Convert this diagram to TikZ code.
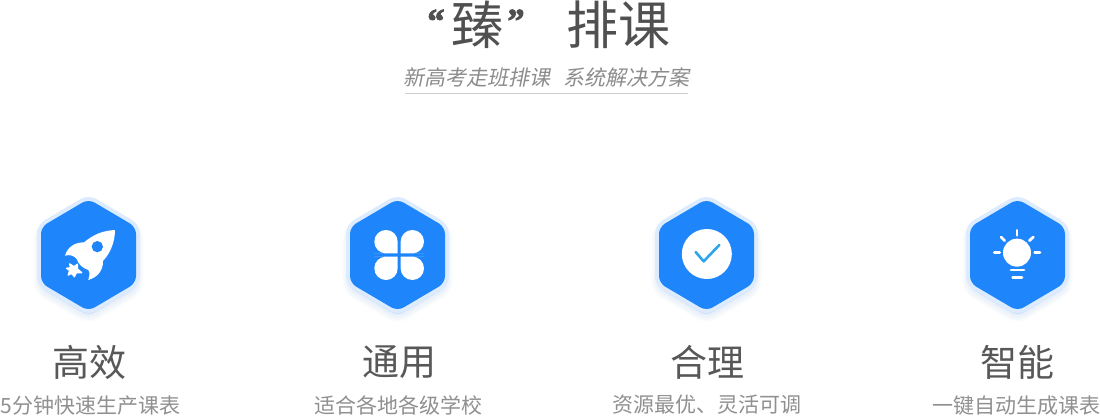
\documentclass[tikz,border=0pt]{standalone}
\usepackage{fontspec}
\setmainfont{Noto Sans CJK SC}
\newfontfamily\cjkslant[FakeSlant=0.2]{Noto Sans CJK SC}
\newfontfamily\quotefont[FakeBold=3]{Liberation Serif Bold}
\definecolor{hexblue}{HTML}{1E86FA}
\definecolor{halo}{HTML}{DCEBFE}
\definecolor{titlegray}{HTML}{505050}
\definecolor{subgray}{HTML}{8C8C8C}
\definecolor{labelgray}{HTML}{585858}
\definecolor{descgray}{HTML}{909090}
\definecolor{checkblue}{HTML}{2BA6EC}
\tikzset{
  titletext/.style={inner sep=0pt,text=titlegray,font=\fontsize{52pt}{54pt}\selectfont},
  quotetext/.style={inner sep=0pt,text=titlegray,font=\quotefont\fontsize{34pt}{36pt}\selectfont},
  subtext/.style={inner sep=0pt,text=subgray,font=\cjkslant\fontsize{21pt}{23pt}\selectfont},
  labeltext/.style={inner sep=0pt,text=labelgray,font=\fontsize{37pt}{39pt}\selectfont},
  desctext/.style={inner sep=0pt,text=descgray,font=\fontsize{21pt}{23pt}\selectfont},
  iconbar/.style={draw=white,line width=2.8pt,line cap=round},
}
\newcommand{\hexpath}{(0,-56) -- (47.5,-28) -- (47.5,28) -- (0,56) -- (-47.5,28) -- (-47.5,-28) -- cycle}
\newcommand{\hexbadge}[1]{%
  \begin{scope}[shift={(#1pt,-255pt)}]
    \foreach \w in {16,14,12,10,8,6,4,2}{
      \draw[draw=hexblue,fill=hexblue,opacity=.012,line width=\w pt,rounded corners=7pt,line join=round,yshift=-5pt] \hexpath;
    }
    \draw[draw=halo,fill=halo,line width=8pt,rounded corners=7pt,line join=round] \hexpath;
    \fill[hexblue,rounded corners=7pt] \hexpath;
  \end{scope}}
\begin{document}
\begin{tikzpicture}[x=1pt,y=-1pt]
\fill[white] (0,0) rectangle (1100,416);
\useasboundingbox (0,0) rectangle (1100,416);

\node[quotetext] (ql) at (436,21) {“};
\node[titletext] (zhen) at (477,25) {臻};
\node[quotetext] (qr) at (516,21) {”};
\node[titletext] (paike) at (618,25) {排课};
\node[subtext] (subtitle) at (546.5,77) {新高考走班排课\hspace{14pt}系统解决方案};
\coordinate (ruleL) at (405,93.5);
\coordinate (ruleR) at (688,93.5);
\draw[draw=black!20,line width=.7pt] (ruleL) -- (ruleR);

\hexbadge{88.5}
\hexbadge{397.5}
\hexbadge{706.5}
\hexbadge{1017.5}

% rocket
\begin{scope}[shift={(20pt,-185pt)},x=.3333pt,y=-.3333pt]
  \fill[white] (285,135) .. controls (250,137) and (222,147) .. (192,172)
    .. controls (162,172) and (142,188) .. (135,212)
    .. controls (150,208) and (162,212) .. (170,222)
    .. controls (176,240) and (190,250) .. (205,255)
    .. controls (212,265) and (207,275) .. (205,285)
    .. controls (230,278) and (250,258) .. (249,228)
    .. controls (275,200) and (285,165) .. (285,135) -- cycle;
  \fill[hexblue] (232,185) circle (17);
  \fill[white,draw=white,line width=1.4pt,line join=round] (149,237) -- (162,245) -- (172,238) -- (172,252) -- (185,263) -- (169,263) -- (163,275) -- (155,265) -- (145,270) -- (149,256) -- (140,250) -- (152,248) -- cycle;
\end{scope}

% clover
\begin{scope}[shift={(330pt,-185pt)},x=.3333pt,y=-.3333pt]
  \fill[white,rounded corners=11.6pt] (203,170) -- (203,135) -- (133,135) -- (133,205) -- (168,205) [sharp corners] -- (203,205) -- cycle;
  \fill[white,rounded corners=11.6pt] (212,170) -- (212,135) -- (282,135) -- (282,205) -- (247,205) [sharp corners] -- (212,205) -- cycle;
  \fill[white,rounded corners=11.6pt] (203,250) -- (203,285) -- (133,285) -- (133,215) -- (168,215) [sharp corners] -- (203,215) -- cycle;
  \fill[white,rounded corners=11.6pt] (212,250) -- (212,285) -- (282,285) -- (282,215) -- (247,215) [sharp corners] -- (212,215) -- cycle;
\end{scope}

% check
\begin{scope}[shift={(640pt,-185pt)},x=.3333pt,y=-.3333pt]
  \fill[white] (200.5,207) circle (75);
  \draw[checkblue,line width=2.6pt,line cap=round,line join=round] (167,201) -- (191,229) -- (238,180);
\end{scope}

% bulb
\begin{scope}[shift={(950pt,-185pt)},x=.3333pt,y=-.3333pt]
  \fill[white] (201,203) circle (42);
  \draw[iconbar] (201,136) -- (201,151);
  \draw[iconbar] (133,203) -- (149,203);
  \draw[iconbar] (254,203) -- (270,203);
  \draw[iconbar] (153,156) -- (164,167);
  \draw[iconbar] (250,156) -- (238,167);
  \draw[iconbar] (183,255) -- (222,255);
  \draw[iconbar] (188,277) -- (216,277);
\end{scope}

\node[labeltext] (l1) at (89,362) {高效};
\node[labeltext] (l2) at (399,362) {通用};
\node[labeltext] (l3) at (707,362) {合理};
\node[labeltext] (l4) at (1017,362) {智能};

\node[desctext] (d1) at (90.5,406) {5分钟快速生产课表};
\node[desctext] (d2) at (398,405) {适合各地各级学校};
\node[desctext] (d3) at (707,405) {资源最优、灵活可调};
\node[desctext] (d4) at (1016.5,406) {一键自动生成课表};
\end{tikzpicture}
\end{document}
